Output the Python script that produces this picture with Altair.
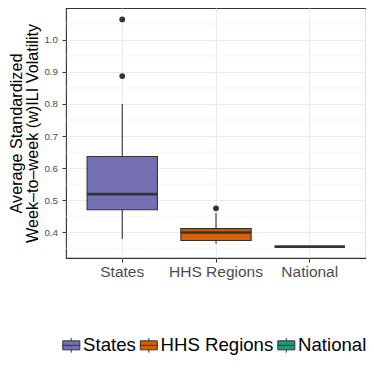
import altair as alt
import pandas as pd

categories = ["States", "HHS Regions", "National"]
colors = ["#7570B3", "#D95F02", "#1B9E77"]
whisker_low = [0.379, 0.364, 0.355]
q1 = [0.470, 0.374, 0.355]
median = [0.519, 0.399, 0.355]
q3 = [0.636, 0.411, 0.355]
whisker_high = [0.800, 0.460, 0.355]

outlier_cat = ["States", "States", "HHS Regions"]
outlier_val = [1.064, 0.887, 0.4745]

major_ticks = [0.4, 0.5, 0.6, 0.7, 0.8, 0.9, 1.0]
minor_ticks = [0.35, 0.45, 0.55, 0.65, 0.75, 0.85, 0.95, 1.05]

box_df = pd.DataFrame({
    "category": categories,
    "lo": whisker_low, "q1": q1, "med": median, "q3": q3, "hi": whisker_high,
})
out_df = pd.DataFrame({"category": outlier_cat, "value": outlier_val})
minor_df = pd.DataFrame({"v": minor_ticks})

yscale = alt.Scale(domain=[0.3195, 1.0995], nice=False, zero=False)
xscale = alt.Scale(type="band", domain=categories, paddingInner=0.25, paddingOuter=0.225)

x_enc = alt.X("category:N", scale=xscale, sort=categories,
              axis=alt.Axis(title=None, labelAngle=0, labelFontSize=15.5,
                            labelColor="#4D4D4D", tickColor="#333333", tickSize=4,
                            labelPadding=2, domain=False, grid=True,
                            gridColor="#EBEBEB", gridWidth=1.1, bandPosition=0.5))

y_title = ["Average Standardized", "Week\u2013to\u2013week (w)ILI Volatility"]

minor = alt.Chart(minor_df).mark_rule(color="#EFEFEF", strokeWidth=0.6).encode(
    y=alt.Y("v:Q", scale=yscale,
            axis=alt.Axis(values=major_ticks, format=".1f", title=y_title,
                          titleFontSize=16.2, titleFontWeight="normal", titleColor="#000000",
                          titlePadding=3, titleLineHeight=16,
                          labelFontSize=9.8, labelColor="#4D4D4D", tickColor="#333333",
                          tickSize=4, labelPadding=4.5, domain=False, grid=True,
                          gridColor="#EBEBEB", gridWidth=1.1))
)

base = alt.Chart(box_df)

whisk = base.mark_rule(color="#333333", strokeWidth=1.1).encode(
    x=x_enc,
    y=alt.Y("lo:Q", scale=yscale),
    y2="hi:Q",
)

legend_path = "M-1,-0.53H1V0.53H-1Z M-1,0H1 M0,-0.86V-0.53 M0,0.53V0.86"

box = base.mark_bar(stroke="#333333", strokeWidth=1.1, opacity=1).encode(
    x=x_enc,
    y=alt.Y("q1:Q", scale=yscale),
    y2="q3:Q",
    color=alt.Color("category:N", scale=alt.Scale(domain=categories, range=colors),
                    sort=categories,
                    legend=alt.Legend(title=None, orient="none", direction="horizontal",
                                      legendX=-4, legendY=328,
                                      labelFontSize=18.6, labelColor="#000000",
                                      symbolType=legend_path, symbolSize=289,
                                      symbolStrokeColor="#333333", symbolStrokeWidth=1,
                                      symbolOpacity=1, labelOffset=2.5,
                                      columnPadding=1.5, padding=0)),
)

med = base.mark_tick(orient="horizontal", thickness=2.7, size=70.3, color="#333333", opacity=1).encode(
    x=x_enc,
    y=alt.Y("med:Q", scale=yscale),
)

pts = alt.Chart(out_df).mark_circle(size=34, color="#333333", opacity=1).encode(
    x=alt.X("category:N", scale=xscale, sort=categories),
    y=alt.Y("value:Q", scale=yscale),
)

chart = alt.layer(minor, whisk, box, med, pts).properties(
    width=300, height=250,
    autosize=alt.AutoSizeParams(type="none"),
    padding={"left": 58, "top": 0, "right": 0, "bottom": 108},
).configure(font="Liberation Sans").configure_view(
    stroke="#333333", strokeWidth=1.1
)

chart.save("out.html", embed_options={"renderer": "svg", "actions": False})
